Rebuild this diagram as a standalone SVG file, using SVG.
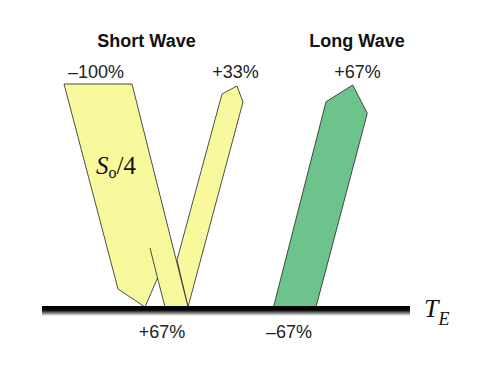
<svg xmlns="http://www.w3.org/2000/svg" width="479" height="384" viewBox="0 0 479 384">
<style>
.sw{fill:#f7f99c;stroke:#222;stroke-width:0.8;stroke-linejoin:miter}
.lw{fill:#6cc48c;stroke:#222;stroke-width:0.8}
.ln{fill:none;stroke:#222;stroke-width:0.8}
.ttl{font-family:"Liberation Sans",Arial,sans-serif;font-weight:bold;font-size:18px;fill:#111;text-anchor:middle}
.pct{font-family:"Liberation Sans",Arial,sans-serif;font-size:18px;fill:#222;text-anchor:middle}
.mth{font-family:"Liberation Serif","Times New Roman",serif;fill:#111}
</style>
<defs>
<linearGradient id="bar" x1="0" y1="0" x2="0" y2="1">
<stop offset="0" stop-color="#000"/>
<stop offset="0.4" stop-color="#000"/>
<stop offset="1" stop-color="#fff"/>
</linearGradient>
</defs>
<rect width="479" height="384" fill="#fff"/>
<text class="ttl" x="146.5" y="47">Short Wave</text>
<text class="ttl" x="357" y="47">Long Wave</text>
<g id="shortwave-reflected">
<polygon class="sw" points="177,260 222,94 237,86 243,102 188,307"/>
</g>
<g id="shortwave-incoming">
<polygon class="sw" points="64,84 132,84 188,307 165,307 157.5,278 145,307 118,289"/>
<line class="ln" x1="150" y1="248" x2="157.5" y2="278"/>
</g>
<g id="longwave">
<polygon class="lw" points="273.5,307 326,101.7 352.7,85 367.3,113.3 316,307"/>
</g>
<g id="surface">
<rect x="42" y="306" width="368" height="10" fill="url(#bar)"/>
</g>
<text class="pct" x="96" y="78">–100%</text>
<text class="pct" x="235.5" y="78">+33%</text>
<text class="pct" x="357.5" y="78">+67%</text>
<text class="pct" x="162" y="337.5">+67%</text>
<text class="pct" x="289" y="337.5">–67%</text>
<text class="mth" x="96" y="173.5" font-size="25"><tspan font-style="italic">S</tspan><tspan font-size="16" dy="4.5">o</tspan><tspan dy="-4.5">/4</tspan></text>
<text class="mth" x="424" y="316.5" font-size="26" font-style="italic">T<tspan font-size="18" dy="8">E</tspan></text>
</svg>
